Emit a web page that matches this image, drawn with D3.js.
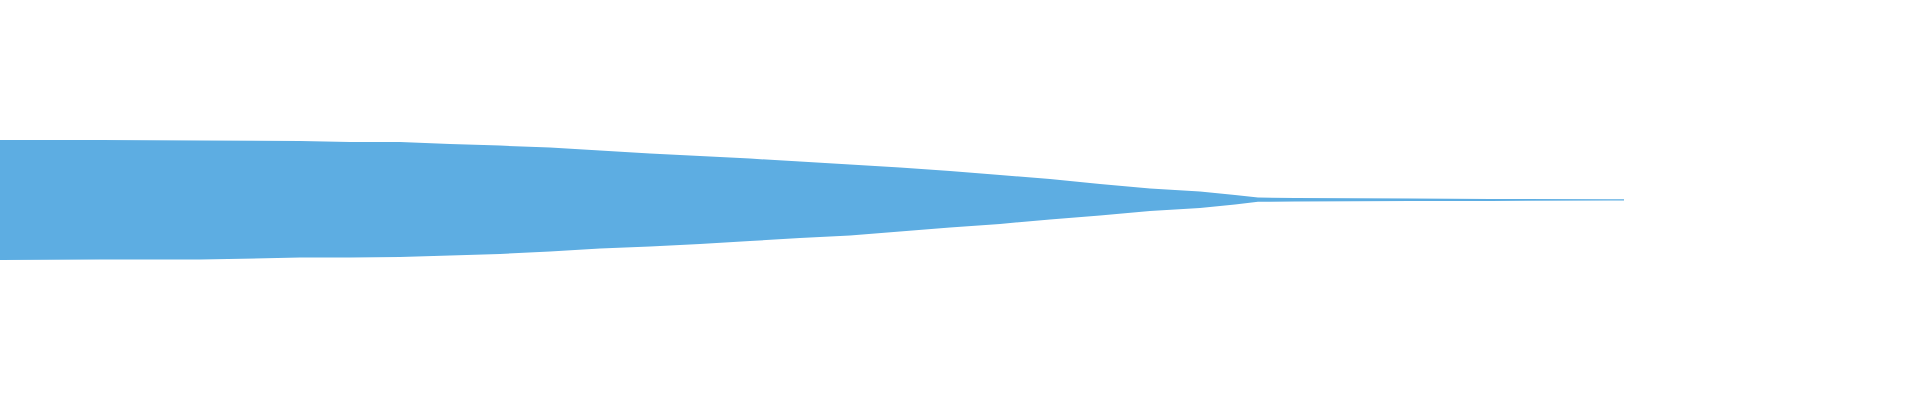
<!DOCTYPE html>
<html>
<head>
<meta charset="utf-8">
<script src="https://cdn.jsdelivr.net/npm/d3@7"></script>
<style>
  html, body { margin: 0; padding: 0; background: #ffffff; }
  svg { display: block; }
</style>
</head>
<body>
<svg id="chart" width="1920" height="400"></svg>
<script>
// Time (seconds) of each envelope sample
const times = [0, 2.5, 5, 7.5, 8.75, 10, 11.25, 12.5, 13.75, 15, 16.25, 17.5, 18.75, 20,
  21.25, 22.5, 23.75, 25, 26.25, 27.5, 28.75, 30, 30.875, 31.45, 32.375, 35.25, 37.25, 40.275, 40.6];
// Peak (max) amplitude envelope
const peakMax = [0.300, 0.300, 0.298, 0.295, 0.290, 0.290, 0.280, 0.272, 0.262, 0.248, 0.233, 0.220,
  0.207, 0.192, 0.178, 0.163, 0.145, 0.125, 0.105, 0.080, 0.058, 0.042, 0.025, 0.012, 0.010, 0.007,
  0.005, 0.0035, 0.0035];
// Trough (min) amplitude envelope
const peakMin = [-0.300, -0.297, -0.297, -0.288, -0.288, -0.285, -0.277, -0.270, -0.257, -0.243,
  -0.233, -0.220, -0.205, -0.190, -0.177, -0.158, -0.138, -0.120, -0.097, -0.078, -0.055, -0.040,
  -0.022, -0.009, -0.008, -0.005, -0.005, -0.0025, -0.0025];

const width = 1920, height = 400;
const svg = d3.select("#chart");

const x = d3.scaleLinear().domain([0, 48]).range([0, width]);
const y = d3.scaleLinear().domain([-1, 1]).range([height, 0]);

const data = times.map((t, i) => ({ t, hi: peakMax[i], lo: peakMin[i] }));

const area = d3.area()
  .x(d => x(d.t))
  .y0(d => Math.max(y(d.lo), y(d.hi) + 1))
  .y1(d => y(d.hi))
  .curve(d3.curveLinear);

svg.append("path")
  .datum(data)
  .attr("d", area)
  .attr("fill", "#5dade2")
  .attr("stroke", "none");
</script>
</body>
</html>
